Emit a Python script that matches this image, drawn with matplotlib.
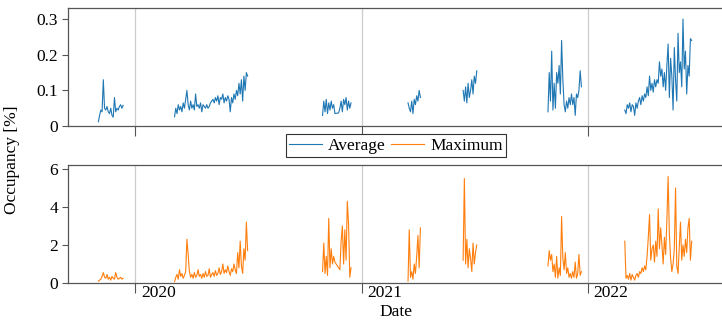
import numpy as np
import pandas as pd
import matplotlib
matplotlib.use("Agg")
import matplotlib.pyplot as plt
import matplotlib.dates as mdates
from matplotlib.ticker import FuncFormatter
from matplotlib.transforms import ScaledTranslation

plt.rcParams['font.family'] = ['Liberation Serif', 'DejaVu Serif']
plt.rcParams['font.size'] = 12.5

# measurement campaigns (start date, sampled every 2 days)
seg_starts = ["2019-11-03", "2020-03-05", "2020-10-30", "2021-03-17",
              "2021-06-14", "2021-10-29", "2022-03-02"]

# average occupancy [%] per campaign
avg_1 = [0.012, 0.03, 0.045, 0.04, 0.13, 0.05, 0.045, 0.055, 0.04, 0.035, 0.05,
         0.03, 0.025, 0.08, 0.04, 0.05, 0.045, 0.055, 0.06, 0.05, 0.058]
avg_2 = [0.026, 0.05, 0.035, 0.06, 0.045, 0.055, 0.04, 0.065, 0.05, 0.075, 0.1,
         0.06, 0.045, 0.07, 0.05, 0.06, 0.045, 0.09, 0.055, 0.06, 0.05,
         0.065, 0.04, 0.06, 0.055, 0.05, 0.06, 0.05, 0.055, 0.065, 0.07,
         0.075, 0.065, 0.08, 0.07, 0.085, 0.06, 0.08, 0.075, 0.09, 0.065,
         0.08, 0.07, 0.085, 0.075, 0.04, 0.08, 0.065, 0.09, 0.075, 0.1,
         0.085, 0.12, 0.09, 0.13, 0.07, 0.14, 0.1, 0.15, 0.14]
avg_3 = [0.03, 0.07, 0.04, 0.075, 0.035, 0.065, 0.045, 0.07, 0.05, 0.06, 0.035,
         0.036, 0.036, 0.037, 0.05, 0.07, 0.04, 0.075, 0.06, 0.08, 0.045, 0.07,
         0.05, 0.065]
avg_4 = [0.065, 0.05, 0.04, 0.07, 0.035, 0.075, 0.06, 0.085, 0.07, 0.1, 0.08]
avg_5 = [0.1, 0.07, 0.11, 0.065, 0.12, 0.08, 0.1, 0.13, 0.09, 0.14, 0.12, 0.155]
avg_6 = [0.04, 0.15, 0.07, 0.21, 0.045, 0.12, 0.05, 0.15, 0.12, 0.17, 0.09,
         0.24, 0.13, 0.06, 0.04, 0.07, 0.05, 0.08, 0.06, 0.09, 0.06, 0.08,
         0.03, 0.09, 0.08, 0.1, 0.155, 0.11]
avg_7 = [0.045, 0.035, 0.06, 0.05, 0.065, 0.04, 0.06, 0.055, 0.03, 0.065, 0.05,
         0.07, 0.08, 0.06, 0.085, 0.07, 0.09, 0.08, 0.11, 0.085, 0.14, 0.1,
         0.12, 0.095, 0.13, 0.11, 0.13, 0.12, 0.18, 0.14, 0.16, 0.11, 0.15,
         0.1, 0.17, 0.23, 0.08, 0.19, 0.14, 0.045, 0.22, 0.13, 0.07, 0.26,
         0.15, 0.18, 0.11, 0.3, 0.16, 0.21, 0.09, 0.17, 0.14, 0.245, 0.24]

# maximum occupancy [%] per campaign
max_1 = [0.1, 0.15, 0.2, 0.35, 0.55, 0.3, 0.25, 0.45, 0.2, 0.3, 0.15, 0.35,
         0.25, 0.2, 0.55, 0.3, 0.2, 0.25, 0.3, 0.2, 0.25]
max_2 = [0.07, 0.3, 0.45, 0.2, 0.7, 0.35, 0.5, 0.25, 0.4, 0.6, 2.3,
         1.5, 0.6, 0.3, 0.45, 0.25, 0.55, 0.3, 0.4, 0.7, 0.35,
         0.45, 0.25, 0.5, 0.3, 0.6, 0.35, 0.4, 0.75, 0.3, 0.45,
         0.55, 0.35, 0.65, 0.4, 0.5, 0.8, 0.45, 0.6, 1.0, 0.5,
         0.7, 0.55, 0.9, 0.6, 0.4, 0.75, 0.6, 1.0, 0.7, 0.5,
         1.6, 0.8, 2.2, 0.9, 0.5, 1.8, 1.2, 3.2, 1.7]
max_3 = [0.6, 2.1, 0.5, 1.4, 0.4, 3.4, 0.8, 1.8, 1.0, 1.4, 1.1, 1.0, 0.9, 0.8,
         0.7, 2.2, 3.0, 1.0, 2.8, 1.2, 4.3, 3.1, 0.3, 0.8]
max_4 = [0.1, 2.8, 0.3, 0.6, 0.2, 1.0, 0.5, 1.4, 2.5, 0.8, 2.9]
max_5 = [1.2, 5.5, 1.0, 2.3, 0.8, 1.8, 1.3, 0.6, 2.1, 1.0, 1.6, 2.0]
max_6 = [0.9, 1.7, 1.2, 1.5, 0.6, 1.0, 0.3, 1.4, 0.25, 0.8, 0.4, 3.5, 1.3, 0.7,
         1.6, 0.5, 0.8, 0.3, 0.5, 0.25, 0.6, 0.3, 1.1, 0.25, 0.5, 1.5, 0.4, 0.6]
max_7 = [2.2, 0.25, 0.4, 0.2, 0.5, 0.15, 0.45, 0.3, 0.15, 0.4, 0.5, 0.3, 0.6,
         0.5, 0.8, 0.6, 0.9, 0.7, 1.4, 2.4, 3.6, 1.2, 1.8, 2.0, 1.1, 2.2, 1.4,
         3.9, 1.8, 2.9, 2.0, 1.0, 2.4, 1.5, 3.3, 5.6, 2.6, 1.3, 0.6, 1.0, 1.8,
         5.0, 0.9, 0.5, 1.9, 3.2, 1.2, 2.0, 1.4, 2.3, 1.6, 2.9, 3.4, 1.2, 2.2]

avg_segs = [avg_1, avg_2, avg_3, avg_4, avg_5, avg_6, avg_7]
max_segs = [max_1, max_2, max_3, max_4, max_5, max_6, max_7]

year_ticks = pd.to_datetime(["2020-01-01", "2021-01-01", "2022-01-01"])
year_labels = ["2020", "2021", "2022"]

fig = plt.figure(figsize=(7.22, 3.2), dpi=100)
ax1 = fig.add_axes([0.0942, 0.606, 0.9058, 0.369])
ax2 = fig.add_axes([0.0942, 0.1156, 0.9058, 0.369], sharex=ax1)

blue = "#1f77b4"
orange = "#ff7f0e"

for i, (start, a, m) in enumerate(zip(seg_starts, avg_segs, max_segs)):
    d_a = pd.date_range(start, periods=len(a), freq="2D")
    d_m = pd.date_range(start, periods=len(m), freq="2D")
    ax1.plot(d_a, a, color=blue, lw=0.8, label="Average" if i == 0 else None)
    ax2.plot(d_m, m, color=orange, lw=0.8, label="Maximum" if i == 0 else None)

ax1.set_xlim(pd.Timestamp("2019-09-15"), pd.Timestamp("2022-08-06"))
ax1.set_ylim(0, 0.331)
ax2.set_ylim(0, 6.21)
ax1.set_yticks([0, 0.1, 0.2, 0.3])
ax2.set_yticks([0, 2, 4, 6])

fmt = FuncFormatter(lambda v, p: "%g" % round(v, 3))
spine_col = "#555555"
for ax in (ax1, ax2):
    ax.yaxis.set_major_formatter(fmt)
    ax.set_xticks(year_ticks)
    ax.grid(axis="x", color="#cccccc", lw=0.9)
    ax.grid(axis="y", visible=False)
    ax.spines["right"].set_visible(False)
    for s in ("left", "top", "bottom"):
        ax.spines[s].set_color(spine_col)
        ax.spines[s].set_linewidth(0.9)
    ax.tick_params(axis="y", direction="out", length=4, width=0.8,
                   color=spine_col, pad=3)
    ax.tick_params(axis="x", direction="out", length=7, width=0.8,
                   color=spine_col)

ax1.tick_params(axis="x", labelbottom=False)
ax2.set_xticklabels(year_labels)
ax2.tick_params(axis="x", pad=0)
offset = ScaledTranslation(6 / 100, 8 / 100, fig.dpi_scale_trans)
for lab in ax2.get_xticklabels():
    lab.set_horizontalalignment("left")
    lab.set_transform(lab.get_transform() + offset)

fig.text(12 / 722, 0.5, "Occupancy [%]", rotation=90, ha="center", va="center")
fig.text(396 / 722, 8 / 320, "Date", ha="center", va="center")

handles = ax1.get_lines()[:1] + ax2.get_lines()[:1]
leg = fig.legend(handles, ["Average", "Maximum"], loc="center",
                 bbox_to_anchor=(396 / 722, (320 - 145.5) / 320), ncol=2,
                 fancybox=False, edgecolor="#333333", framealpha=1,
                 borderpad=0.2, columnspacing=0.3, handletextpad=0.35,
                 handlelength=1.9, borderaxespad=0)
leg.get_frame().set_linewidth(0.8)

fig.savefig("out.png", dpi=100)
